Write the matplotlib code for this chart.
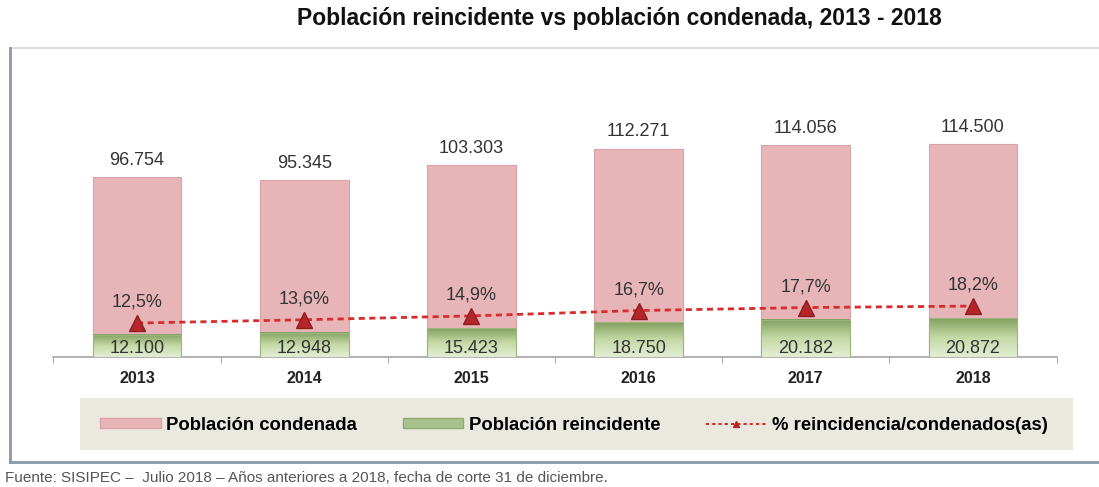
import numpy as np
import matplotlib
matplotlib.use('Agg')
import matplotlib.pyplot as plt
from matplotlib.patches import Patch, Rectangle
from matplotlib.lines import Line2D
from matplotlib.colors import LinearSegmentedColormap

plt.rcParams['font.family'] = ['Liberation Sans', 'DejaVu Sans']

years = ['2013', '2014', '2015', '2016', '2017', '2018']
condenada = [96754, 95345, 103303, 112271, 114056, 114500]
reincidente = [12100, 12948, 15423, 18750, 20182, 20872]
porcentaje = [12.5, 13.6, 14.9, 16.7, 17.7, 18.2]

PINK = '#e7b5b7'
PINK_EDGE = '#d9a3a6'
GREEN = '#a9c18a'
RED = '#d92b2b'
MARKER = '#b5262a'


def miles(v):
    return f'{v:,}'.replace(',', '.')


def pct(v):
    return f'{v:.1f}%'.replace('.', ',')


W, H = 1099, 487
fig = plt.figure(figsize=(W / 100, H / 100), dpi=100)

# outer frame
fig.add_artist(Line2D([10 / W, 1], [1 - 48 / H, 1 - 48 / H], transform=fig.transFigure,
                      color='#d5d8de', lw=1.2))
fig.add_artist(Line2D([10 / W, 10 / W], [1 - 48 / H, 1 - 462 / H], transform=fig.transFigure,
                      color='#8a97a8', lw=2))
fig.add_artist(Line2D([10 / W, 1], [1 - 462 / H, 1 - 462 / H], transform=fig.transFigure,
                      color='#8a97a8', lw=2))

fig.text(619 / W, 1 - 19 / H, 'Población reincidente vs población condenada, 2013 - 2018',
         ha='center', va='center', fontsize=16.5, fontweight='bold', color='#111111')

ax = fig.add_axes([53.5 / W, 1 - 357 / H, 1003 / W, 297 / H])
x = np.arange(len(years))
bw = 0.53

ax.bar(x, condenada, width=bw, color=PINK, edgecolor=PINK_EDGE, linewidth=0.8, zorder=2)

# green bars with vertical gradient
cmap = LinearSegmentedColormap.from_list('g', ['#e3eed4', '#c5d9a6', '#82a05f'])
grad = np.linspace(0, 1, 100).reshape(-1, 1)
for xi, r in zip(x, reincidente):
    ax.imshow(grad, extent=[xi - bw / 2, xi + bw / 2, 0, r], origin='lower',
              aspect='auto', cmap=cmap, zorder=3)
ax.bar(x, reincidente, width=bw, color='none', edgecolor='#9cb57e', linewidth=0.8, zorder=3.5)

for xi, c in zip(x, condenada):
    ax.annotate(miles(c), (xi, c), xytext=(0, 6), textcoords='offset points',
                ha='center', va='bottom', fontsize=13, color='#333333')
for xi in x:
    ax.annotate(miles(reincidente[xi]), (xi, 0), xytext=(0, 0), textcoords='offset points',
                ha='center', va='bottom', fontsize=13, color='#333333', zorder=6)

ax.set_xlim(-0.5, len(years) - 0.5)
ax.set_ylim(0, 160000)
ax.set_xticks(x)
ax.set_xticklabels(years, fontweight='bold', fontsize=11.5, color='#222222')
ax.set_xticks(np.arange(-0.5, len(years)), minor=True)
ax.tick_params(axis='x', which='major', length=0, pad=10)
ax.tick_params(axis='x', which='minor', length=4, color='#999999')
ax.set_yticks([])
for s in ['top', 'left', 'right']:
    ax.spines[s].set_visible(False)
ax.spines['bottom'].set_color('#a6a6a6')
ax.spines['bottom'].set_linewidth(1.2)

ax2 = ax.twinx()
ax2.set_ylim(1.1, 100.8)
ax2.plot(x, porcentaje, color=RED, ls=(0, (2.2, 1.6)), lw=2, marker='^', ms=12,
         mfc=MARKER, mec='#8f1d20', zorder=5)
for xi, p in zip(x, porcentaje):
    ax2.annotate(pct(p), (xi, p), xytext=(0, 9), textcoords='offset points',
                 ha='center', va='bottom', fontsize=13, color='#333333')
ax2.set_yticks([])
for s in ax2.spines.values():
    s.set_visible(False)

# legend background box
fig.add_artist(Rectangle((80 / W, 1 - 450 / H), 993 / W, 52 / H, transform=fig.transFigure,
                         facecolor='#ebe9df', edgecolor='none', zorder=0))

handles = [Patch(facecolor=PINK, edgecolor=PINK_EDGE),
           Patch(facecolor=GREEN, edgecolor='#8fab70'),
           Line2D([], [], color=RED, ls=(0, (1.5, 1.5)), lw=1.5, marker='^', ms=5,
                  mfc=MARKER, mec=MARKER)]
labels = ['Población condenada', 'Población reincidente', '% reincidencia/condenados(as)']
leg = fig.legend(handles, labels, loc='center', ncol=3, mode='expand',
                 bbox_to_anchor=(83 / W, 1 - 451 / H, 982 / W, 52 / H),
                 frameon=False, prop={'weight': 'bold', 'size': 13.3}, handlelength=3.3,
                 handleheight=0.5, handletextpad=0.3, borderpad=0.9, borderaxespad=0)

fig.text(5 / W, 1 - 478 / H,
         'Fuente: SISIPEC –  Julio 2018 – Años anteriores a 2018, fecha de corte 31 de diciembre.',
         ha='left', va='center', fontsize=11, color='#555555')

fig.savefig('out.png', dpi=100)
